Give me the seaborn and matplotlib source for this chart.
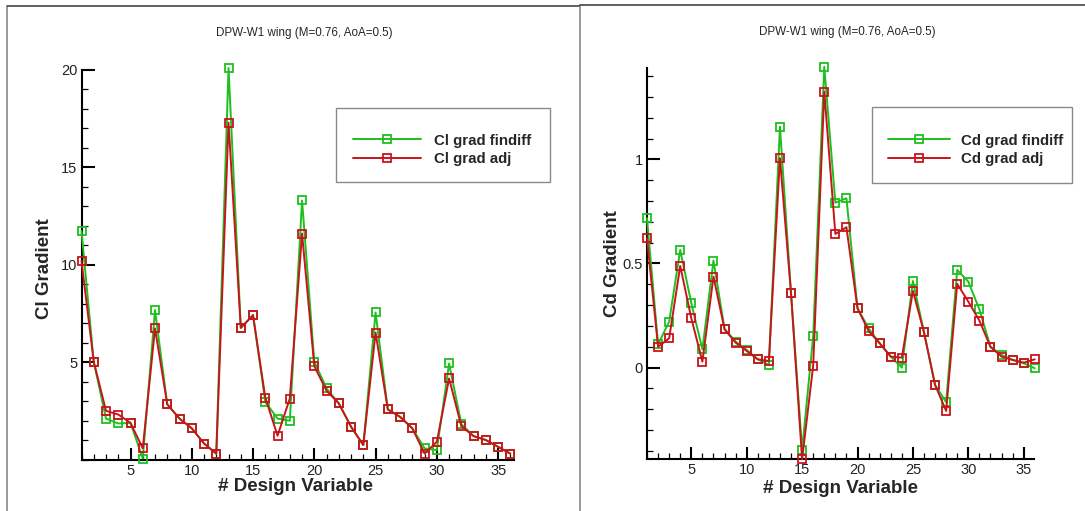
import numpy as np
import pandas as pd
import matplotlib
matplotlib.use("Agg")
import matplotlib.pyplot as plt
from matplotlib.ticker import MultipleLocator, FixedLocator, FormatStrFormatter
from matplotlib.patches import Rectangle
from matplotlib.lines import Line2D
import seaborn as sns

# ---------------- data ----------------
design_var = list(range(1, 37))

cl_findiff = [11.73, 5.02, 2.10, 1.85, 1.88, 0.05, 7.67, 2.83, 2.10, 1.60,
              0.82, 0.30, 20.10, 6.76, 7.41, 2.96, 2.10, 1.99, 13.30, 5.02,
              3.65, 2.88, 1.68, 0.74, 7.55, 2.57, 2.19, 1.60, 0.57, 0.48,
              4.93, 1.82, 1.20, 1.00, 0.65, 0.30]
cl_adj = [10.19, 5.02, 2.50, 2.31, 1.88, 0.57, 6.73, 2.83, 2.10, 1.60,
          0.82, 0.30, 17.30, 6.76, 7.41, 3.18, 1.22, 3.13, 11.60, 4.79,
          3.53, 2.88, 1.68, 0.74, 6.52, 2.57, 2.19, 1.60, 0.30, 0.91,
          4.16, 1.71, 1.20, 1.00, 0.65, 0.30]

cd_findiff = [0.717, 0.112, 0.221, 0.565, 0.309, 0.088, 0.514, 0.186, 0.125, 0.085,
              0.040, 0.013, 1.157, 0.357, -0.395, 0.152, 1.445, 0.792, 0.813, 0.285,
              0.189, 0.117, 0.053, 0.000, 0.416, 0.170, -0.083, -0.166, 0.469, 0.413,
              0.280, 0.100, 0.061, 0.037, 0.021, -0.003]
cd_adj = [0.621, 0.100, 0.141, 0.488, 0.237, 0.029, 0.437, 0.184, 0.120, 0.080,
          0.040, 0.032, 1.005, 0.357, -0.440, 0.010, 1.325, 0.642, 0.674, 0.285,
          0.176, 0.117, 0.053, 0.048, 0.368, 0.170, -0.083, -0.208, 0.402, 0.317,
          0.226, 0.100, 0.053, 0.037, 0.024, 0.040]

title = "DPW-W1 wing (M=0.76, AoA=0.5)"
xlabel = "# Design Variable"
cl_ylabel = "Cl Gradient"
cd_ylabel = "Cd Gradient"
cl_labels = ["Cl grad findiff", "Cl grad adj"]
cd_labels = ["Cd grad findiff", "Cd grad adj"]
x_ticks = [5, 10, 15, 20, 25, 30, 35]
cl_yticks = [5, 10, 15, 20]
cd_yticks = [0, 0.5, 1]

# ---------------- style ----------------
sns.set_style("ticks")
plt.rcParams["font.family"] = ["Liberation Sans", "DejaVu Sans"]
plt.rcParams["xtick.direction"] = "in"
plt.rcParams["ytick.direction"] = "in"

W, H = 1085, 511
fig = plt.figure(figsize=(W / 100, H / 100), dpi=100)
fig.patch.set_facecolor("white")

GREEN = "#1fbf1f"
RED = "#c8141c"
MS = 6.4
MEW = 1.3
LW = 1.4


def px_rect(x0, y0, x1, y1):
    return [x0 / W, 1 - y1 / H, (x1 - x0) / W, (y1 - y0) / H]


ax1 = fig.add_axes(px_rect(81.5, 70, 514.4, 459.5))
ax2 = fig.add_axes(px_rect(647, 68.3, 1034, 459.3))

line_kw = dict(marker="s", markersize=MS, markerfacecolor="none",
               markeredgewidth=MEW, linewidth=LW, clip_on=False)


def draw(ax, ys, labels):
    df = pd.DataFrame({"x": design_var, "a": ys[0], "b": ys[1]})
    sns.lineplot(data=df, x="x", y="a", ax=ax, color=GREEN,
                 markeredgecolor=GREEN, label=labels[0], zorder=3, **line_kw)
    sns.lineplot(data=df, x="x", y="b", ax=ax, color=RED,
                 markeredgecolor=RED, label=labels[1], zorder=4, **line_kw)


draw(ax1, (cl_findiff, cl_adj), cl_labels)
draw(ax2, (cd_findiff, cd_adj), cd_labels)

ax1.set_xlim(1, 36.33)
ax1.set_ylim(0, 20)
ax2.set_xlim(1, 35.93)
ax2.set_ylim(-0.44, 1.437)

for ax, yt, ymin_step, ylab in ((ax1, cl_yticks, 1, cl_ylabel),
                                (ax2, cd_yticks, 0.1, cd_ylabel)):
    sns.despine(ax=ax)
    ax.set_facecolor("none")
    for s in ("left", "bottom"):
        ax.spines[s].set_linewidth(1.5)
        ax.spines[s].set_color("black")
    ax.xaxis.set_major_locator(FixedLocator(x_ticks))
    ax.xaxis.set_minor_locator(MultipleLocator(1))
    ax.yaxis.set_major_locator(FixedLocator(yt))
    ax.yaxis.set_minor_locator(MultipleLocator(ymin_step))
    ax.yaxis.set_major_formatter(FormatStrFormatter("%g"))
    ax.tick_params(which="major", direction="in", length=9, width=1.5,
                   labelsize=10.5, pad=3, colors="black", labelcolor="#222222")
    ax.tick_params(which="minor", direction="in", length=4.5, width=0.9,
                   colors="black")
    ax.set_xlabel(xlabel, fontsize=13.5, fontweight="bold")
    ax.set_ylabel(ylab, fontsize=13.5, fontweight="bold")
    ax.get_legend().remove()

ax1.xaxis.set_label_coords(0.494, -0.047)
ax2.xaxis.set_label_coords(0.4995, -0.052)
ax1.yaxis.set_label_coords(-0.0665, 0.49)
ax2.yaxis.set_label_coords(-0.067, 0.5)

# titles
fig.text(304 / W, 1 - 33 / H, title, ha="center", va="center", fontsize=8.4)
fig.text(847 / W, 1 - 32 / H, title, ha="center", va="center", fontsize=8.4)

# legends: frameless legend + rectangle frame
for ax, labels, box, hx, hl, htp in (
        (ax1, cl_labels, (335.7, 108, 550, 182), 353.3, 4.5, 0.85),
        (ax2, cd_labels, (871.7, 107, 1071.7, 183), 888.3, 4.1, 0.75)):
    handles = [Line2D([], [], color=GREEN, marker="s", markersize=MS,
                      markerfacecolor="none", markeredgecolor=GREEN,
                      markeredgewidth=MEW, linewidth=LW),
               Line2D([], [], color=RED, marker="s", markersize=MS,
                      markerfacecolor="none", markeredgecolor=RED,
                      markeredgewidth=MEW, linewidth=LW)]
    ax.legend(handles, labels, loc="upper left",
              bbox_to_anchor=(hx / W, 1 - 133.5 / H),
              bbox_transform=fig.transFigure, frameon=False, borderpad=0,
              borderaxespad=0, handlelength=hl, handletextpad=htp,
              labelspacing=0.33, numpoints=1,
              prop={"weight": "bold", "size": 10.8, "family": ["Liberation Sans"]})
    x0, y0, x1, y1 = box
    fig.patches.append(Rectangle((x0 / W, 1 - y1 / H), (x1 - x0) / W, (y1 - y0) / H,
                                 transform=fig.transFigure, fill=False,
                                 edgecolor="#8a8a8a", linewidth=1.0))

# panel frames
frame = [((7, 7), (7, H), "#888888"),
         ((7, 6), (580, 6), "#444444"),
         ((580, 5), (580, H), "#888888"),
         ((580, 5), (W, 5), "#444444")]
for (xa, ya), (xb, yb), c in frame:
    fig.add_artist(Line2D([xa / W, xb / W], [1 - ya / H, 1 - yb / H],
                          transform=fig.transFigure, color=c, linewidth=1.2))

fig.savefig("out.png", dpi=100, facecolor="white")
